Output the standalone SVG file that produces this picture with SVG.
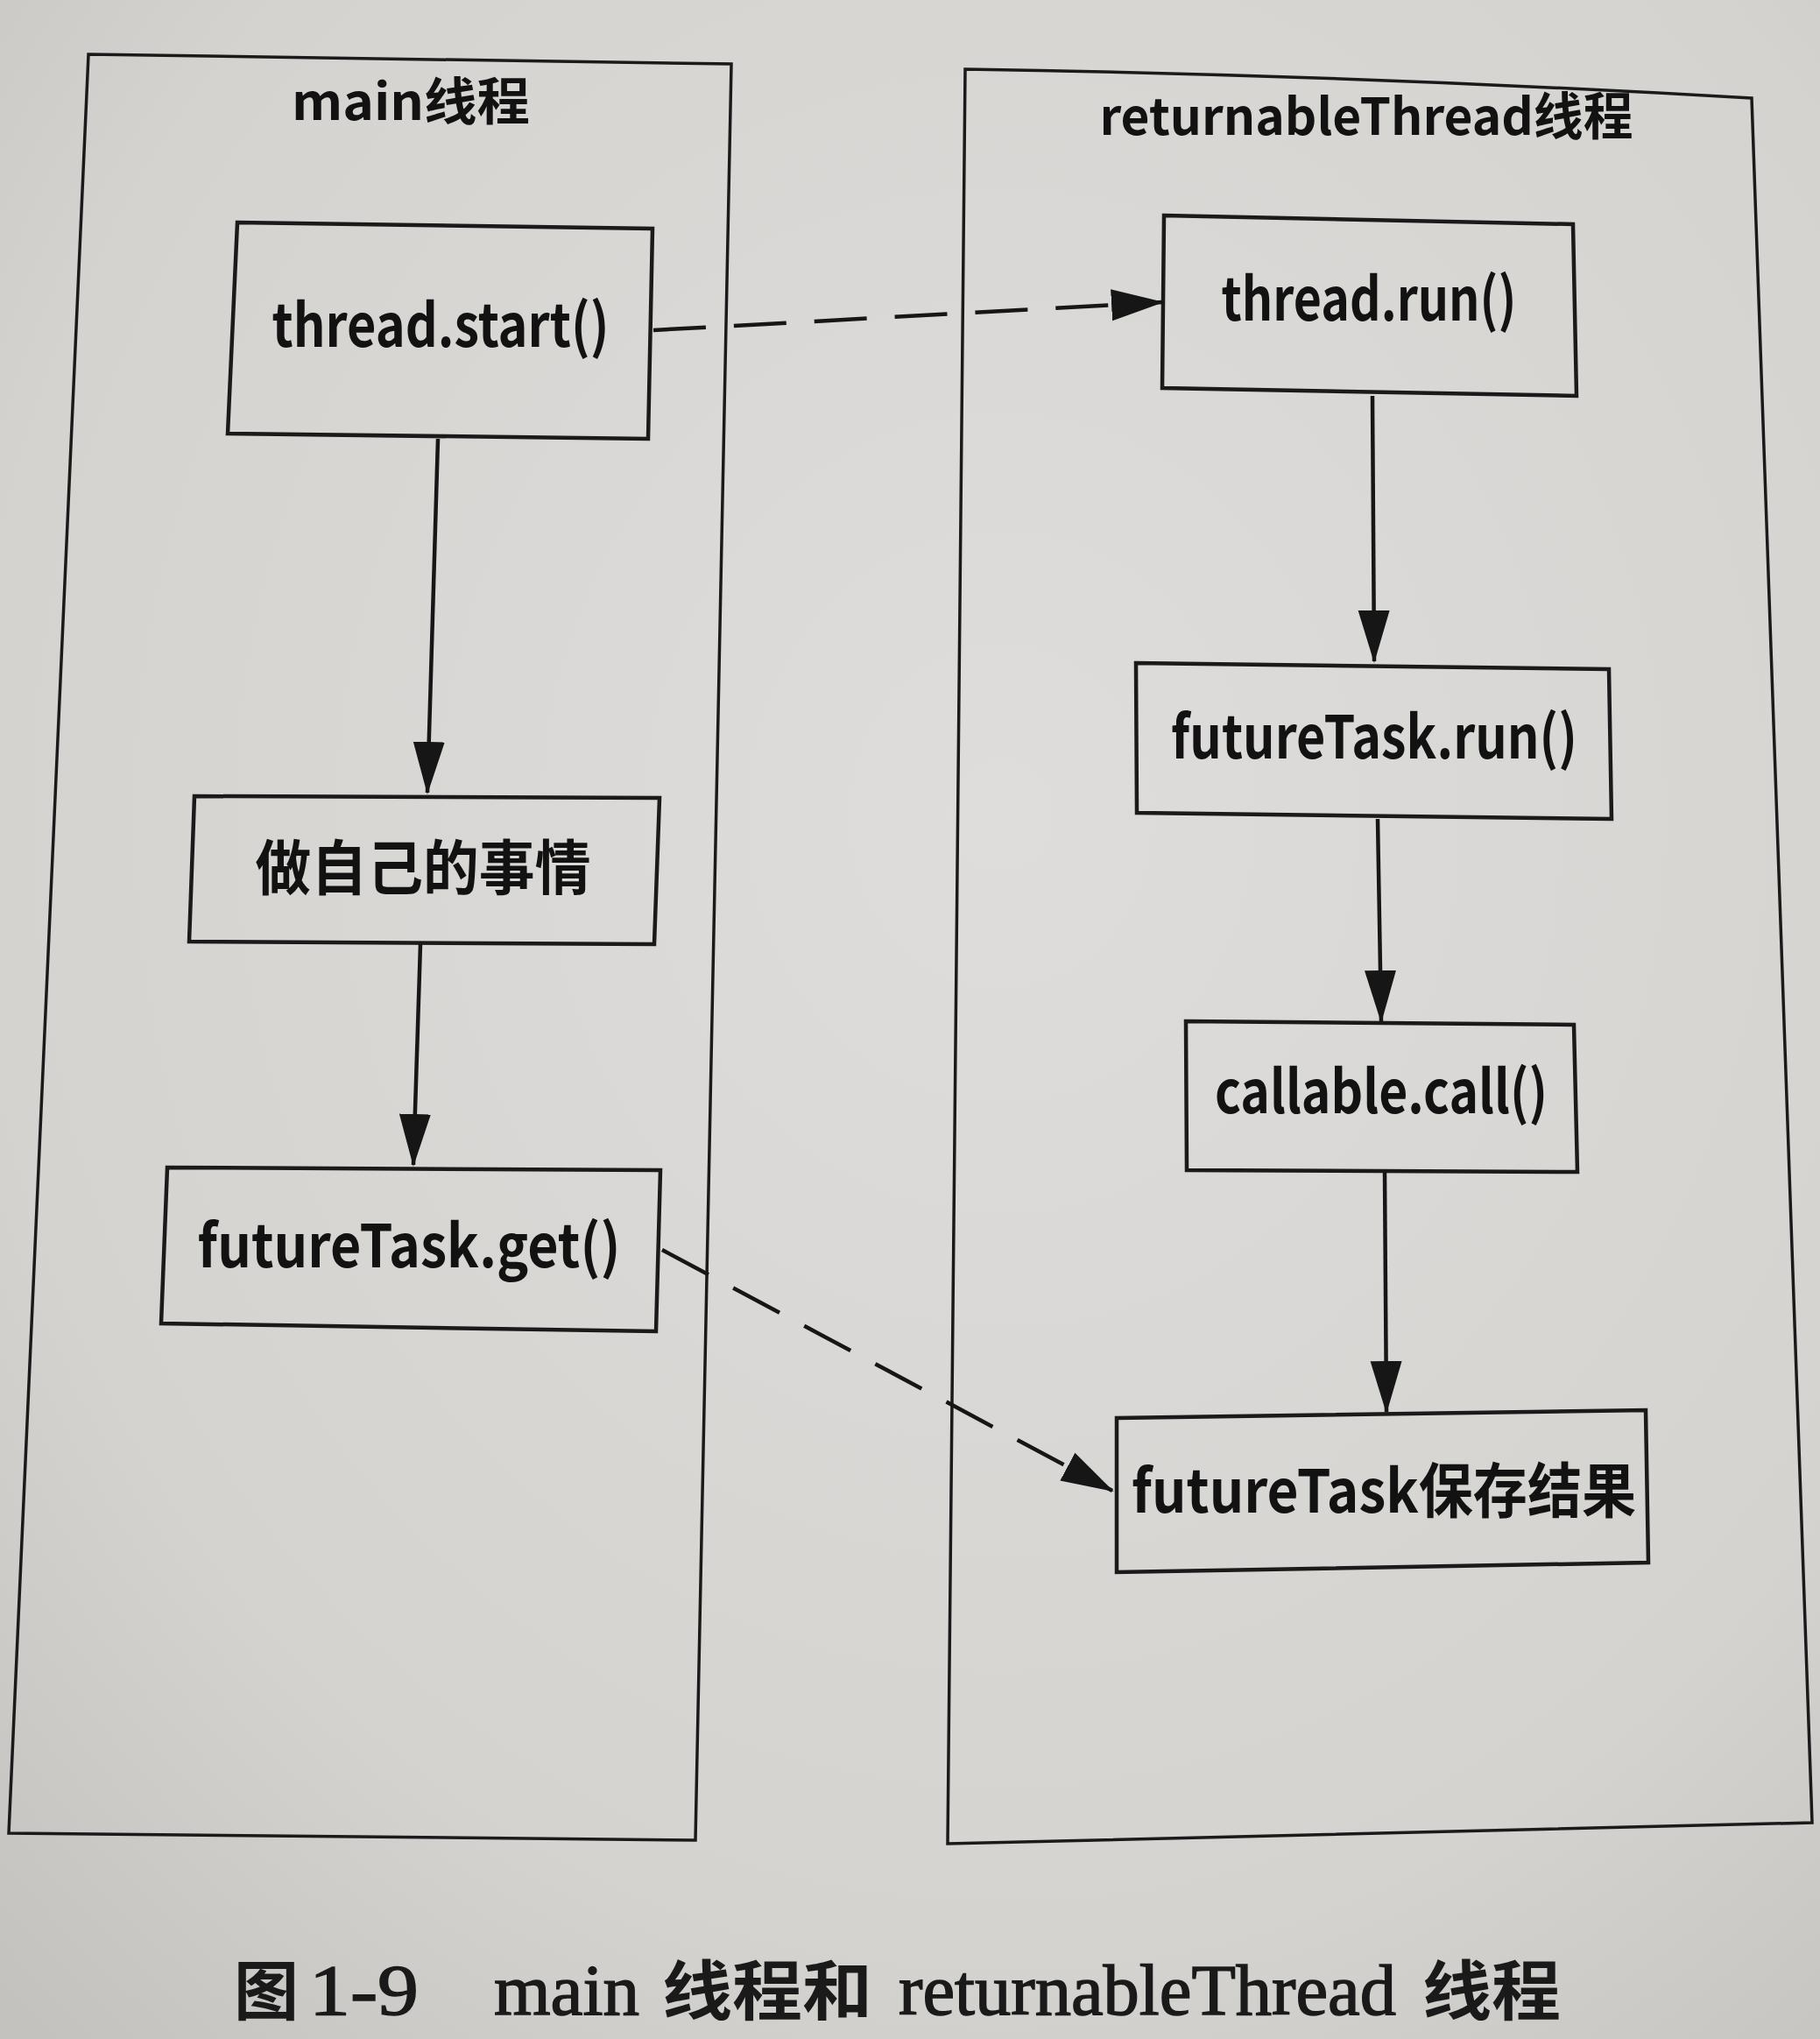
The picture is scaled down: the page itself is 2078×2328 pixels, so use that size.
<svg xmlns="http://www.w3.org/2000/svg" width="2078" height="2328" viewBox="0 0 2078 2328">
<defs>
<radialGradient id="paper" cx="0.55" cy="0.4" r="0.8">
<stop offset="0" stop-color="#dfdddb"/>
<stop offset="0.7" stop-color="#d5d3d0"/>
<stop offset="1" stop-color="#c4c2bf"/>
</radialGradient>
<marker id="ah" markerUnits="userSpaceOnUse" markerWidth="62" markerHeight="40" viewBox="0 0 62 40" refX="58" refY="20" orient="auto">
<path d="M0,2 L60,20 L0,38 Z" fill="#161616"/>
</marker>
<style>
.lane{fill:none;stroke:#1a1a1a;stroke-width:3.5}
.box{fill:none;stroke:#1a1a1a;stroke-width:4.5}
.lbl{font-family:"Noto Sans CJK SC","Open Sans",sans-serif;font-size:68px;font-weight:bold;fill:#121212;text-anchor:middle}
.title{font-size:58px}
.flow{fill:none;stroke:#161616;stroke-width:4.5;marker-end:url(#ah)}
.dash{stroke-dasharray:60 32}
.cap{font-family:"Liberation Serif","Noto Sans CJK SC",serif;font-size:82px;font-weight:normal;fill:#1a1a1a;stroke:#1a1a1a;stroke-width:1.5}
.capcjk{font-family:"Noto Sans CJK SC",sans-serif;font-size:74px;font-weight:bold;fill:#1a1a1a}
</style>
</defs>
<rect x="0" y="0" width="2078" height="2328" fill="url(#paper)"/>

<g id="lane-main">
<polygon class="lane" points="101,62 835,73 794,2101 10,2093"/>
<text class="lbl title" x="469" y="137" textLength="272" lengthAdjust="spacingAndGlyphs">main线程</text>
</g>
<g id="lane-returnable">
<path class="lane" d="M1102,79 Q1550,86 2000,112 L2069,2081 L1082,2105 Z"/>
<text class="lbl title" x="1560" y="154" textLength="609" lengthAdjust="spacingAndGlyphs">returnableThread线程</text>
</g>

<g id="node-thread-start">
<polygon class="box" points="271,254 745,261 740,501 260,495"/>
<text class="lbl" x="503" y="396" textLength="385" lengthAdjust="spacingAndGlyphs">thread.start()</text>
</g>
<g id="node-do-own">
<polygon class="box" points="222,909 753,911 747,1078 216,1075"/>
<text class="lbl" x="483" y="1016" textLength="383" lengthAdjust="spacingAndGlyphs">做自己的事情</text>
</g>
<g id="node-future-get">
<polygon class="box" points="191,1333 754,1336 749,1520 184,1511"/>
<text class="lbl" x="467" y="1447" textLength="483" lengthAdjust="spacingAndGlyphs">futureTask.get()</text>
</g>
<g id="node-thread-run">
<polygon class="box" points="1329,246 1796,256 1800,452 1327,443"/>
<text class="lbl" x="1563" y="366" textLength="337" lengthAdjust="spacingAndGlyphs">thread.run()</text>
</g>
<g id="node-future-run">
<polygon class="box" points="1297,757 1837,764 1840,935 1298,928"/>
<text class="lbl" x="1569" y="866" textLength="464" lengthAdjust="spacingAndGlyphs">futureTask.run()</text>
</g>
<g id="node-callable-call">
<polygon class="box" points="1354,1166 1797,1170 1801,1338 1355,1336"/>
<text class="lbl" x="1577" y="1271" textLength="380" lengthAdjust="spacingAndGlyphs">callable.call()</text>
</g>
<g id="node-future-save">
<polygon class="box" points="1275,1619 1879,1610 1882,1784 1275,1795"/>
<text class="lbl" x="1580" y="1727" textLength="576" lengthAdjust="spacingAndGlyphs">futureTask保存结果</text>
</g>

<g id="connectors">
<line class="flow" x1="500" y1="501" x2="488" y2="905"/>
<line class="flow" x1="480" y1="1078" x2="472" y2="1330"/>
<line class="flow" x1="1567" y1="452" x2="1569" y2="755"/>
<line class="flow" x1="1573" y1="935" x2="1577" y2="1166"/>
<line class="flow" x1="1581" y1="1338" x2="1583" y2="1612"/>
<line class="flow dash" x1="746" y1="377" x2="1327" y2="345"/>
<line class="flow dash" x1="756" y1="1427" x2="1270" y2="1702"/>
</g>

<g id="caption">
<text class="capcjk" x="267" y="2300">图</text>
<text class="cap" x="353" y="2300" textLength="125" lengthAdjust="spacingAndGlyphs">1-9</text>
<text class="cap" x="564" y="2300" textLength="166" lengthAdjust="spacingAndGlyphs">main</text>
<text class="capcjk" x="756" y="2300" textLength="240" lengthAdjust="spacingAndGlyphs">线程和</text>
<text class="cap" x="1026" y="2300" textLength="568" lengthAdjust="spacingAndGlyphs">returnableThread</text>
<text class="capcjk" x="1624" y="2300" textLength="158" lengthAdjust="spacingAndGlyphs">线程</text>
</g>
</svg>
